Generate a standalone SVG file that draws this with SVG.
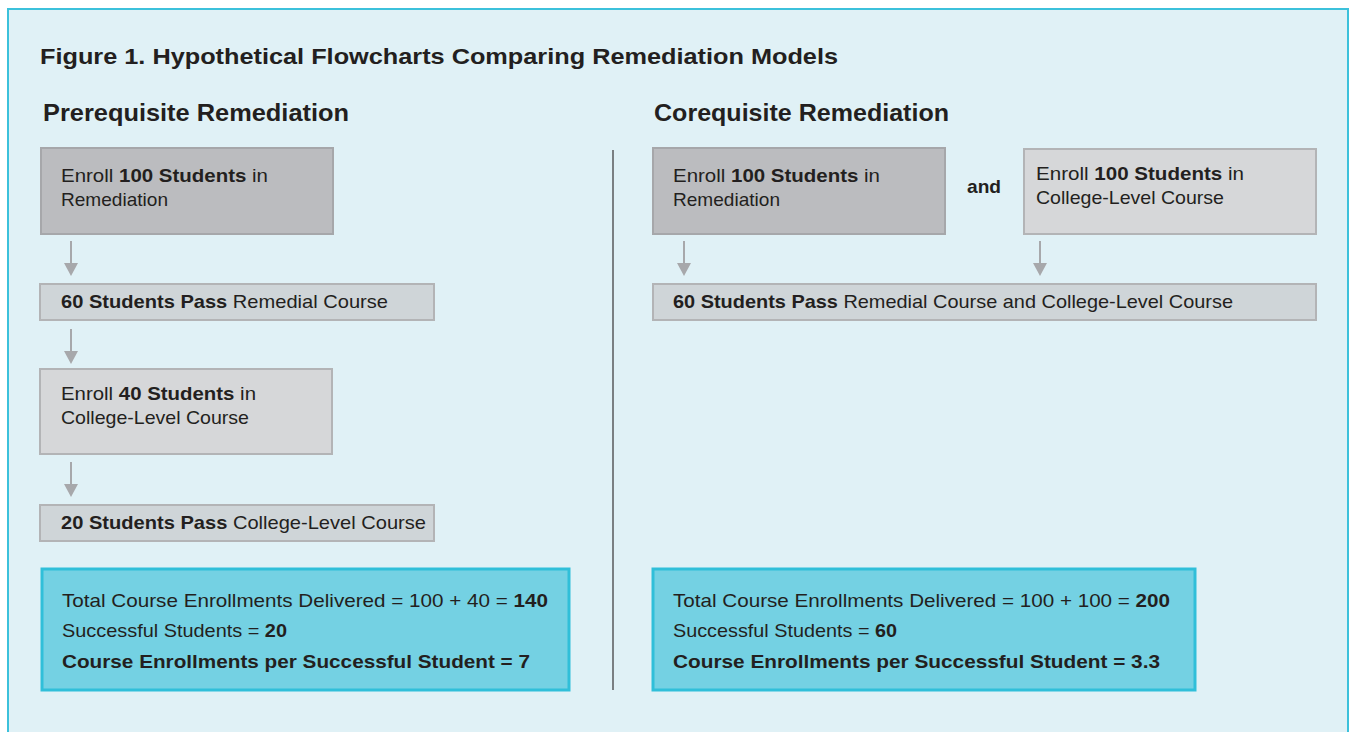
<svg xmlns="http://www.w3.org/2000/svg" width="1350" height="732" viewBox="0 0 1350 732">
<defs>
<style>
text{font-family:"Liberation Sans",Arial,sans-serif;fill:#231f20}
.t{font-size:19px}
.b{font-weight:bold}
.h{font-size:22px;font-weight:bold}
.h2{font-size:24px;font-weight:bold}
.dark{fill:#bbbcbf;stroke:#a6a7aa;stroke-width:2}
.light{fill:#d6d7d9;stroke:#b3b4b6;stroke-width:2}
.pass{fill:#cfd5d8;stroke:#b3b4b6;stroke-width:2}
.sum{fill:#74d1e3;stroke:#30bfd9;stroke-width:3}
.arr{stroke:#a7a8ab;stroke-width:2;fill:none}
.head{fill:#a7a8ab}
</style>
</defs>
<rect x="0" y="0" width="1350" height="732" fill="#ffffff"/>
<rect x="8" y="9" width="1340" height="730" fill="#e0f1f6" stroke="#3cc1db" stroke-width="2"/>
<text class="h" x="40" y="64" textLength="798" lengthAdjust="spacingAndGlyphs">Figure 1. Hypothetical Flowcharts Comparing Remediation Models</text>
<text class="h2" x="43" y="121" textLength="306" lengthAdjust="spacingAndGlyphs">Prerequisite Remediation</text>
<text class="h2" x="654" y="121" textLength="295" lengthAdjust="spacingAndGlyphs">Corequisite Remediation</text>
<line x1="613" y1="150" x2="613" y2="690" stroke="#58595b" stroke-width="1.5"/>
<g id="connectors">
<path class="arr" d="M71,241 V264"/><path class="head" d="M64,263 L78,263 L71,276 Z"/>
<path class="arr" d="M71,329 V352"/><path class="head" d="M64,351 L78,351 L71,364 Z"/>
<path class="arr" d="M71,462 V485"/><path class="head" d="M64,484 L78,484 L71,497 Z"/>
<path class="arr" d="M684,241 V264"/><path class="head" d="M677,263 L691,263 L684,276 Z"/>
<path class="arr" d="M1040,241 V264"/><path class="head" d="M1033,263 L1047,263 L1040,276 Z"/>
</g>
<g id="pre-enroll">
<rect class="dark" x="41" y="148" width="292" height="86"/>
<text class="t" x="61" y="182" textLength="207" lengthAdjust="spacingAndGlyphs">Enroll <tspan class="b">100 Students</tspan> in</text>
<text class="t" x="61" y="206" textLength="107" lengthAdjust="spacingAndGlyphs">Remediation</text>
</g>
<g id="pre-pass">
<rect class="pass" x="40" y="284" width="394" height="36"/>
<text class="t" x="61" y="308" textLength="327" lengthAdjust="spacingAndGlyphs"><tspan class="b">60 Students Pass</tspan> Remedial Course</text>
</g>
<g id="pre-college">
<rect class="light" x="40" y="369" width="292" height="85"/>
<text class="t" x="61" y="400" textLength="195" lengthAdjust="spacingAndGlyphs">Enroll <tspan class="b">40 Students</tspan> in</text>
<text class="t" x="61" y="424" textLength="188" lengthAdjust="spacingAndGlyphs">College-Level Course</text>
</g>
<g id="pre-pass2">
<rect class="pass" x="40" y="505" width="394" height="36"/>
<text class="t" x="61" y="529" textLength="365" lengthAdjust="spacingAndGlyphs"><tspan class="b">20 Students Pass</tspan> College-Level Course</text>
</g>
<g id="pre-summary">
<rect class="sum" x="42" y="569" width="527" height="121"/>
<text class="t" x="62" y="607" textLength="486" lengthAdjust="spacingAndGlyphs">Total Course Enrollments Delivered = 100 + 40 = <tspan class="b">140</tspan></text>
<text class="t" x="62" y="637" textLength="225" lengthAdjust="spacingAndGlyphs">Successful Students = <tspan class="b">20</tspan></text>
<text class="t b" x="62" y="668" textLength="468" lengthAdjust="spacingAndGlyphs">Course Enrollments per Successful Student = 7</text>
</g>
<g id="co-remed">
<rect class="dark" x="653" y="148" width="292" height="86"/>
<text class="t" x="673" y="182" textLength="207" lengthAdjust="spacingAndGlyphs">Enroll <tspan class="b">100 Students</tspan> in</text>
<text class="t" x="673" y="206" textLength="107" lengthAdjust="spacingAndGlyphs">Remediation</text>
</g>
<text class="t b" x="967" y="193" textLength="34" lengthAdjust="spacingAndGlyphs">and</text>
<g id="co-college">
<rect class="light" x="1024" y="149" width="292" height="85"/>
<text class="t" x="1036" y="180" textLength="208" lengthAdjust="spacingAndGlyphs">Enroll <tspan class="b">100 Students</tspan> in</text>
<text class="t" x="1036" y="204" textLength="188" lengthAdjust="spacingAndGlyphs">College-Level Course</text>
</g>
<g id="co-pass">
<rect class="pass" x="653" y="284" width="663" height="36"/>
<text class="t" x="673" y="308" textLength="560" lengthAdjust="spacingAndGlyphs"><tspan class="b">60 Students Pass</tspan> Remedial Course and College-Level Course</text>
</g>
<g id="co-summary">
<rect class="sum" x="653" y="569" width="542" height="121"/>
<text class="t" x="673" y="607" textLength="497" lengthAdjust="spacingAndGlyphs">Total Course Enrollments Delivered = 100 + 100 = <tspan class="b">200</tspan></text>
<text class="t" x="673" y="637" textLength="224" lengthAdjust="spacingAndGlyphs">Successful Students = <tspan class="b">60</tspan></text>
<text class="t b" x="673" y="668" textLength="487" lengthAdjust="spacingAndGlyphs">Course Enrollments per Successful Student = 3.3</text>
</g>
</svg>
